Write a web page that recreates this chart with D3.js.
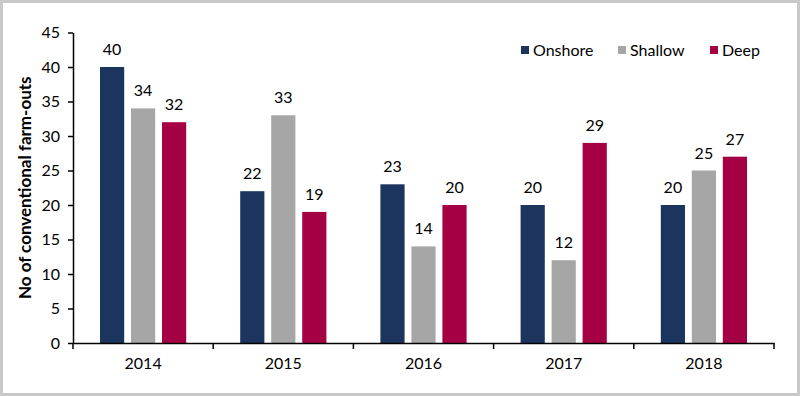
<!DOCTYPE html>
<html>
<head>
<meta charset="utf-8">
<script src="https://cdn.jsdelivr.net/npm/d3@7"></script>
<style>
  html, body { margin: 0; padding: 0; background: #fff; }
  svg { display: block; font-family: Lato, "Open Sans", sans-serif; }
</style>
</head>
<body>
<div id="chart"></div>
<script>
const years = ['2014', '2015', '2016', '2017', '2018'];
const seriesNames = ['Onshore', 'Shallow', 'Deep'];
const onshore = [40, 22, 23, 20, 20];
const shallow = [34, 33, 14, 12, 25];
const deep = [32, 19, 20, 29, 27];
const yTicks = [0, 5, 10, 15, 20, 25, 30, 35, 40, 45];
const colors = ['#1c355e', '#a6a6a6', '#a50044'];

const W = 800, H = 396;
const margin = { top: 32.5, right: 26, bottom: 53, left: 73 };
const width = W - margin.left - margin.right;
const height = H - margin.top - margin.bottom;

const svg = d3.select('#chart').append('svg')
  .attr('width', W)
  .attr('height', H);

// outer frame
svg.append('rect')
  .attr('x', 1.5).attr('y', 1.5)
  .attr('width', W - 3).attr('height', H - 3)
  .attr('fill', '#fff')
  .attr('stroke', '#c8c8c8')
  .attr('stroke-width', 3);

const g = svg.append('g')
  .attr('transform', `translate(${margin.left},${margin.top})`);

const data = years.map((y, i) => ({ year: y, values: [onshore[i], shallow[i], deep[i]] }));

const x = d3.scaleBand().domain(years).range([0, width]);
const x1 = d3.scaleBand().domain(seriesNames).range([27, x.bandwidth() - 27]).paddingInner(0.22);
const y = d3.scaleLinear().domain([0, 45]).range([height, 0]);

// bars
const groups = g.selectAll('.grp')
  .data(data)
  .enter().append('g')
  .attr('class', 'grp')
  .attr('transform', d => `translate(${x(d.year)},0)`);

groups.selectAll('rect')
  .data(d => d.values.map((v, i) => ({ name: seriesNames[i], value: v, i })))
  .enter().append('rect')
  .attr('x', d => x1(d.name))
  .attr('y', d => y(d.value))
  .attr('width', x1.bandwidth())
  .attr('height', d => height - y(d.value))
  .attr('fill', d => colors[d.i]);

groups.selectAll('text')
  .data(d => d.values.map((v, i) => ({ name: seriesNames[i], value: v })))
  .enter().append('text')
  .attr('x', d => x1(d.name) + x1.bandwidth() / 2)
  .attr('y', d => y(d.value) - 12)
  .attr('text-anchor', 'middle')
  .attr('font-size', '16px')
  .attr('fill', '#000')
  .text(d => d.value);

// y axis
const yAxis = g.append('g')
  .call(d3.axisLeft(y).tickValues(yTicks).tickSize(5).tickSizeOuter(0).tickPadding(8));
yAxis.select('.domain').attr('stroke', '#000').attr('stroke-width', 1.5);
yAxis.selectAll('.tick line').attr('stroke', '#000').attr('stroke-width', 1.5);
yAxis.selectAll('.tick text').attr('font-size', '16px').attr('font-family', 'Lato, sans-serif').attr('fill', '#000');

// x axis
const xAxis = g.append('g')
  .attr('transform', `translate(0,${height})`)
  .call(d3.axisBottom(x).tickSize(0).tickPadding(15));
xAxis.select('.domain').attr('stroke', '#000').attr('stroke-width', 1.5);
xAxis.selectAll('.tick text').attr('font-size', '16px').attr('font-family', 'Lato, sans-serif').attr('fill', '#000');

// category boundary ticks
g.append('g')
  .selectAll('line')
  .data(years.map(d => x(d)).concat([width]))
  .enter().append('line')
  .attr('x1', d => d).attr('x2', d => d)
  .attr('y1', height).attr('y2', height + 6)
  .attr('stroke', '#000')
  .attr('stroke-width', 1.5);

// y title
svg.append('text')
  .attr('transform', `translate(31,${margin.top + height / 2}) rotate(-90)`)
  .attr('text-anchor', 'middle')
  .attr('font-size', '17px')
  .attr('font-weight', 'bold')
  .attr('fill', '#000')
  .text('No of conventional farm-outs');

// legend
const legendX = [521, 618, 710];
const legend = svg.append('g');
seriesNames.forEach((name, i) => {
  legend.append('rect')
    .attr('x', legendX[i]).attr('y', 46)
    .attr('width', 8).attr('height', 8)
    .attr('fill', colors[i]);
  legend.append('text')
    .attr('x', legendX[i] + 12).attr('y', 56)
    .attr('font-size', '16px')
    .attr('fill', '#000')
    .text(name);
});
</script>
</body>
</html>
